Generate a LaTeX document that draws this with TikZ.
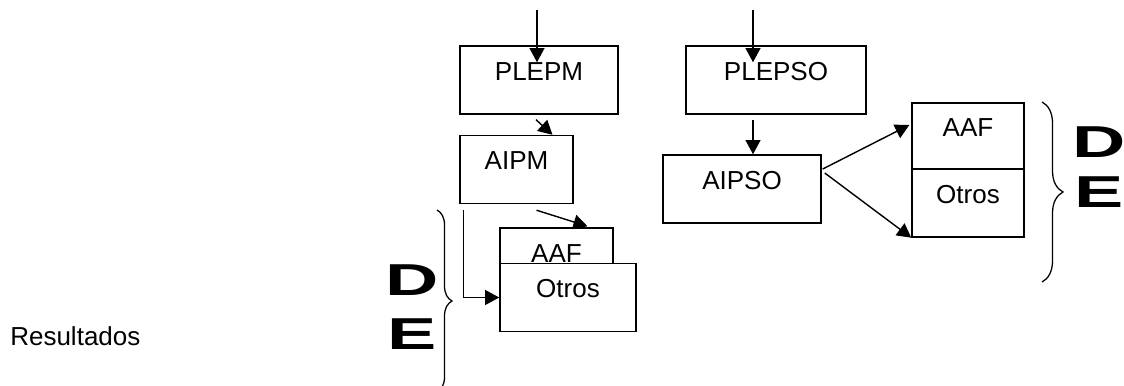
\documentclass[tikz,border=0pt]{standalone}
\usepackage{fontspec}
\setmainfont{Liberation Sans}
\usetikzlibrary{arrows.meta,calc,decorations.pathreplacing}
\begin{document}
\begin{tikzpicture}[x=0.025cm,y=-0.025cm,>={Triangle[length=10pt,width=10.5pt]},
  caja/.style={draw,line width=1pt,fill=white,inner sep=0pt,minimum height=1.7cm,
    text height=0.47cm,text depth=0.45cm,font=\fontsize{18.5}{22}\selectfont},
  letra/.style={inner sep=0pt,font=\fontsize{31.8}{32}\selectfont\bfseries},
  flecha/.style={->,line width=1pt},
  llave/.style={decorate,line width=0.9pt,decoration={brace,amplitude=#1}}]
\useasboundingbox (0,0) rectangle (1124,386);
\node[caja,minimum width=3.95cm] (plepm) at (539,80) {PLEPM};
\node[caja,minimum width=4.5cm] (plepso) at (776,80) {PLEPSO};
\node[caja,minimum width=2.825cm] (aipm) at (516.5,169.5) {AIPM};
\node[caja,minimum width=3.95cm] (aipso) at (742,189) {AIPSO};
\node[caja,minimum width=2.825cm] (aafL) at (556.5,262) {AAF};
\node[caja,minimum width=3.4cm] (otrosL) at (568,297.5) {Otros};
\node[caja,minimum width=2.8cm,minimum height=1.65cm] (aafR) at (968,136) {AAF};
\node[caja,minimum width=2.8cm] (otrosR) at (968,203) {Otros};
\node[anchor=west,inner sep=0pt,font=\fontsize{18.5}{22}\selectfont] (res) at (10,336) {Resultados};
\node[letra] (dL) at (412,280) {\scalebox{1.65}[1]{D}};
\node[letra] (eL) at (412,334) {\scalebox{1.65}[1]{E}};
\node[letra] (dR) at (1099.5,142) {\scalebox{1.65}[1]{D}};
\node[letra] (eR) at (1099,192.5) {\scalebox{1.65}[1]{E}};
\coordinate (inM) at (537,10);
\coordinate (inS) at (753,10);
\draw[flecha] (inM) -- (inM |- plepm.north) -- ++(0,17);
\draw[flecha] (inS) -- (inS |- plepso.north) -- ++(0,17);
\draw[flecha] ($(plepm.south)+(-3,5)$) -- ($(aipm.north)+(36,0)$);
\draw[flecha] ($(plepso.south)+(-23,5)$) -- ($(aipso.north)+(11,0)$);
\draw[flecha] ($(aipm.south)+(20,6)$) -- ($(aafL.north)+(31,-1)$);
\draw[flecha] ($(aipm.south west)+(4,6)$) |- (otrosL.west);
\draw[flecha] ($(aipso.east)+(1,-20)$) -- ($(aafR.west)+(-2,-11)$);
\draw[flecha] ($(aipso.east)+(3,-16)$) -- (otrosR.south west);
\draw[llave=0.375cm] (437,210) -- (437,392);
\draw[llave=0.525cm] (1042,102) -- (1042,282);
\end{tikzpicture}
\end{document}
